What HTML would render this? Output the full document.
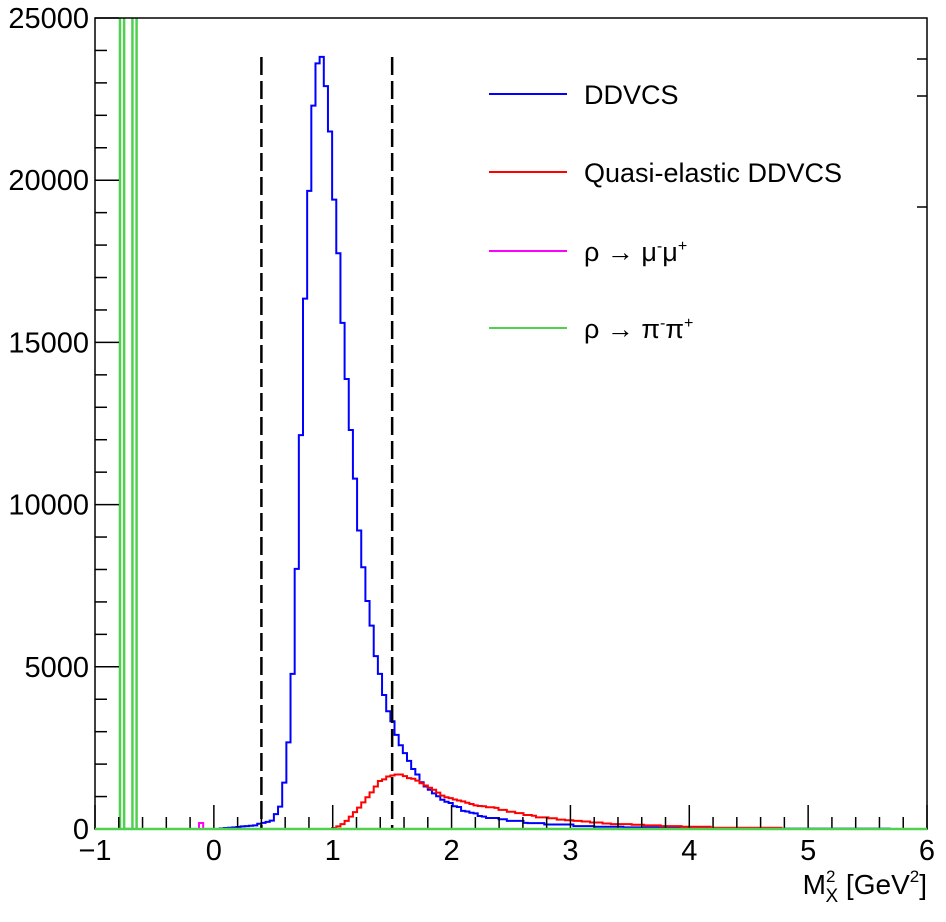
<!DOCTYPE html>
<html><head><meta charset="utf-8">
<style>
html,body{margin:0;padding:0;background:#fff;}
svg{display:block;font-family:"Liberation Sans",sans-serif;}
</style></head>
<body>
<svg id="chart" width="946" height="922" viewBox="0 0 946 922" xmlns="http://www.w3.org/2000/svg">
<defs><clipPath id="plotclip"><rect x="95" y="18" width="832" height="812"/></clipPath></defs>
<rect x="0" y="0" width="946" height="922" fill="#fff"/>
<g id="hists" clip-path="url(#plotclip)"></g>
<g id="cuts"></g>
<rect x="95" y="18" width="832" height="811" fill="none" stroke="#000" stroke-width="1.5"/>
<g id="axes"></g>
<g id="top"></g>
<g id="legend"></g>
<text x="927" y="894" text-anchor="end" font-size="28">M<tspan font-size="17" dy="-12">2</tspan><tspan font-size="19" dx="-10" dy="20">X</tspan><tspan dy="-8"> [GeV</tspan><tspan font-size="17" dy="-12">2</tspan><tspan dy="12">]</tspan></text>
</svg>
<script>
const binMin = -1, binWidth = 0.035;
const blueStart = 30;
const blueValues = [20,30,40,50,60,80,90,100,110,160,190,220,260,460,690,1430,2670,4780,8020,12140,16350,19670,22300,23600,23800,22900,21500,19400,17750,15600,13870,12300,10800,9200,8070,7030,6270,5330,4780,4130,3630,3320,2900,2580,2340,2100,1850,1680,1440,1310,1210,1100,1010,900,840,800,700,680,560,540,500,480,400,380,340,340,340,300,300,250,250,250,250,190,180,180,180,180,140,140,140,140,140,140,140,90,90,90,90,90,70,70,70,70,70,70,70,50,50,50,50,50,50,50,50,50,30,30,30,30,30,30,30,30,30,30,30,30,30,30,30,30,30,30,30,30,30,30,30,30,30,10,10,10,10,10,10,10,10,10,10,10,10,10,10,10,10,10,10,10,10,10,10,10,10,10,10,10,10,10,10];
const redStart = 57;
const redValues = [30,80,150,250,380,520,660,820,980,1130,1310,1480,1530,1620,1650,1680,1680,1630,1570,1550,1490,1410,1340,1270,1210,1120,1030,980,950,910,880,850,810,770,730,710,700,670,670,650,590,590,530,530,490,490,430,430,410,360,360,360,330,330,290,290,270,270,250,250,230,230,200,200,200,170,170,150,150,150,150,150,130,130,130,110,110,110,110,90,90,90,90,90,70,70,70,70,70,70,70,40,40,40,40,40,40,40,40,40,40,40,40,40,40,40,40,40];
const magentaStart = 25;
const magentaValues = [185];
const greenStart = 6;
const greenValues = [32000,0,0,32000];
const cutValues = [0.4, 1.5];
const xTickLabels = ["−1","0","1","2","3","4","5","6"];
const xTickValues = [-1,0,1,2,3,4,5,6];
const yTickLabels = ["0","5000","10000","15000","20000","25000"];
const yTickValues = [0,5000,10000,15000,20000,25000];
const legendColors = ["#0000ff","#ff0000","#ff00ff","#4fd14f"];

const X0=95,X1=927,Y0=829,Y1=18;
function xs(v){return X0+(v-binMin)/7*(X1-X0);}
function ys(v){return Y0-(v/25000)*(Y0-Y1);}
const NS="http://www.w3.org/2000/svg";
function mk(tag,attrs,parent){const e=document.createElementNS(NS,tag);for(const k in attrs)e.setAttribute(k,attrs[k]);parent.appendChild(e);return e;}

function histPath(start,vals){
  let d="M"+xs(binMin+start*binWidth)+","+ys(0);
  for(let i=0;i<vals.length;i++){
    const lo=binMin+(start+i)*binWidth, hi=lo+binWidth;
    d+=" L"+xs(lo)+","+ys(vals[i])+" L"+xs(hi)+","+ys(vals[i]);
  }
  d+=" L"+xs(binMin+(start+vals.length)*binWidth)+","+ys(0);
  return d;
}
const hg=document.getElementById("hists");
const series=[[blueStart,blueValues,"#0000ff","ddvcs-histogram"],[redStart,redValues,"#ff0000","quasi-elastic-histogram"],[magentaStart,magentaValues,"#ff00ff","rho-mumu-histogram"]];
series.forEach(s=>{
  const p=mk("path",{d:histPath(s[0],s[1]),fill:"none",stroke:s[2],"stroke-width":"2"},hg);
  
  
});
const gp=mk("path",{d:histPath(greenStart,greenValues),fill:"none",stroke:"#4fd14f","stroke-width":"2.5"},hg);



const cg=document.getElementById("cuts");
cutValues.forEach(c=>{
  const l=mk("line",{x1:xs(c),x2:xs(c),y1:57,y2:Y0,stroke:"#000","stroke-width":"2.5","stroke-dasharray":"18 6"},cg);
  
  
});

const ag=document.getElementById("axes");
for(let v=-1;v<=6.001;v+=0.2){
  const major=Math.abs(v-Math.round(v))<1e-6;
  const t=mk("line",{x1:xs(v),x2:xs(v),y1:Y0,y2:Y0-(major?24:12),stroke:"#000","stroke-width":"1.5"},ag);
  
  
}
for(let v=0;v<=25000;v+=1000){
  const major=v%5000===0;
  const t=mk("line",{x1:X0,x2:X0+(major?24:12),y1:ys(v),y2:ys(v),stroke:"#000","stroke-width":"1.5"},ag);
  
  
}
[59,96,207].forEach(y=>{
  const t=mk("line",{x1:X1-10,x2:X1,y1:y,y2:y,stroke:"#000","stroke-width":"1.5"},ag);
  
  
});
xTickLabels.forEach((s,i)=>{
  const t=mk("text",{x:xs(xTickValues[i]),y:860,"text-anchor":"middle","font-size":"29"},ag);
  t.textContent=s;
  
  
});
yTickLabels.forEach((s,i)=>{
  const t=mk("text",{x:89,y:ys(yTickValues[i])+10,"text-anchor":"end","font-size":"29"},ag);
  t.textContent=s;
  
  
});

const bl=mk("line",{x1:X0,x2:X1,y1:Y0,y2:Y0,stroke:"#4fd14f","stroke-width":"2.5"},document.getElementById("top"));



const lg=document.getElementById("legend");
const ly=[94,172,251,328];
const legendHtml=["DDVCS","Quasi-elastic DDVCS",
 'ρ → μ<tspan font-size="16" dy="-10">-</tspan><tspan dy="10">μ</tspan><tspan font-size="16" dy="-10">+</tspan>',
 'ρ → π<tspan font-size="16" dy="-10">-</tspan><tspan dy="10">π</tspan><tspan font-size="16" dy="-10">+</tspan>'];
legendHtml.forEach((s,i)=>{
  const l=mk("line",{x1:489,x2:567,y1:ly[i],y2:ly[i],stroke:legendColors[i],"stroke-width":"2"},lg);
  
  
  const t=mk("text",{x:584,y:ly[i]+10,"font-size":"27"},lg);
  t.innerHTML=s;
  
  
});
</script>
</body></html>
